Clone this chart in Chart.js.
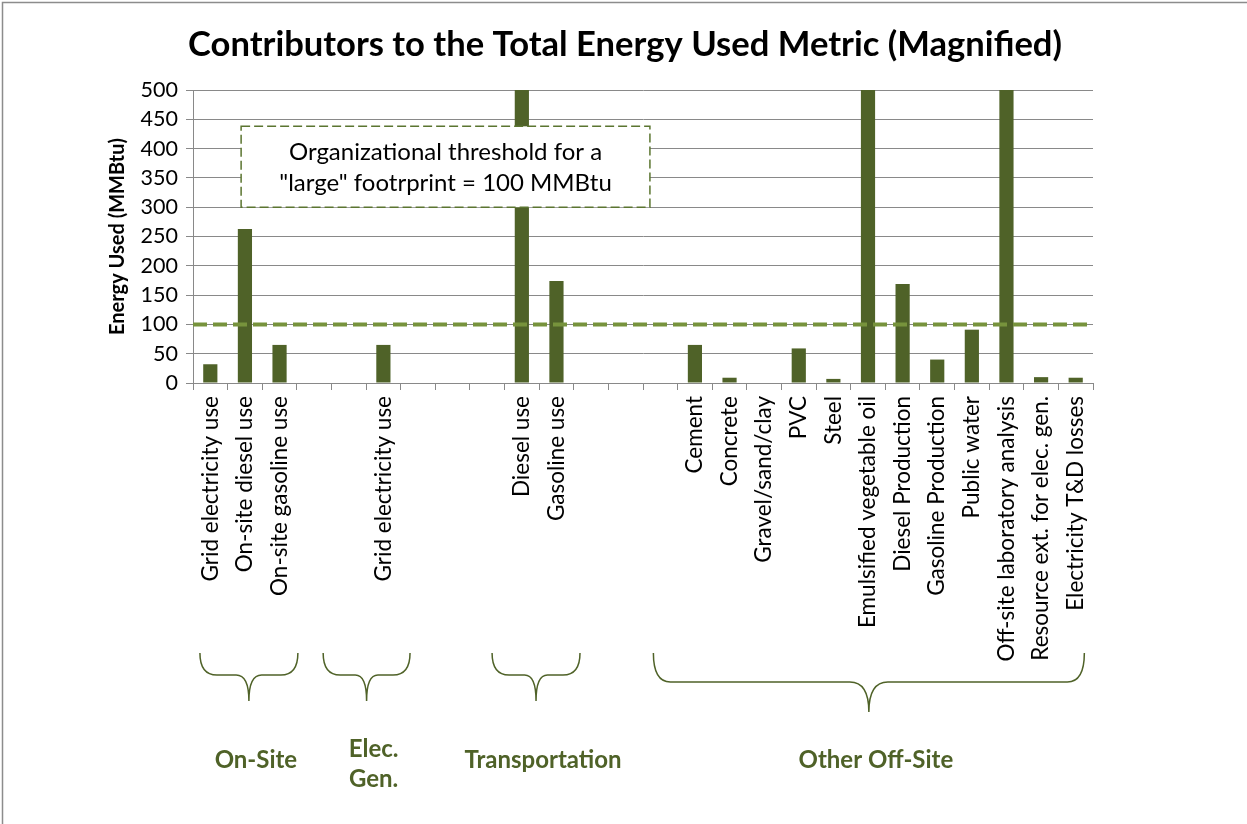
<!DOCTYPE html>
<html>
<head>
<meta charset="utf-8">
<script src="https://cdn.jsdelivr.net/npm/chart.js@4.4.1/dist/chart.umd.min.js"></script>
<style>
  html, body { margin: 0; padding: 0; background: #fff; }
  #wrap { width: 1247px; height: 824px; }
</style>
</head>
<body>
<div id="wrap"><canvas id="chart" width="1247" height="824"></canvas></div>
<script>
// categories (empty strings are the spacer slots between groups)
const categories = [
  'Grid electricity use', 'On-site diesel use', 'On-site gasoline use', '', '',
  'Grid electricity use', '', '', '',
  'Diesel use', 'Gasoline use', '', '', '',
  'Cement', 'Concrete', 'Gravel/sand/clay', 'PVC', 'Steel', 'Emulsified vegetable oil',
  'Diesel Production', 'Gasoline Production', 'Public water', 'Off-site laboratory analysis',
  'Resource ext. for elec. gen.', 'Electricity T&D losses'
];
// MMBtu; the three bars that run off the top are above 500 (rough guesses, clipped anyway)
const energyUsed = [
  32, 263, 65, null, null,
  65, null, null, null,
  1400, 174, null, null, null,
  65, 9, 0, 59, 7, 2100,
  169, 40, 91, 900,
  10, 9
];
const yTicks = [0, 50, 100, 150, 200, 250, 300, 350, 400, 450, 500];
const threshold = 100;
const thresholdNote = ['Organizational threshold for a', '"large" footrprint = 100 MMBtu'];

// group braces under the axis, spans given in category positions
const groupNames = [['On-Site'], ['Elec.', 'Gen.'], ['Transportation'], ['Other Off-Site']];
const groupStart = [-0.3, 3.26, 8.14, 12.8];
const groupEnd = [2.53, 5.77, 10.68, 25.25];

const OLIVE = '#4F6228';
const GRID = '#898989';
const FONT = 'Lato';

function drawBrace(ctx, x0, x1, yTop, yMid, yTip) {
  const xc = (x0 + x1) / 2;
  const cw = 17;
  const tw = Math.min(19, (x1 - x0) * 0.13);
  ctx.beginPath();
  ctx.moveTo(x0, yTop);
  ctx.quadraticCurveTo(x0, yMid, x0 + cw, yMid);
  ctx.lineTo(xc - tw, yMid);
  ctx.quadraticCurveTo(xc, yMid, xc, yTip);
  ctx.quadraticCurveTo(xc, yMid, xc + tw, yMid);
  ctx.lineTo(x1 - cw, yMid);
  ctx.quadraticCurveTo(x1, yMid, x1, yTop);
  ctx.stroke();
}

const overlay = {
  id: 'overlay',
  beforeDraw(chart) {
    const { ctx, width, height } = chart;
    ctx.save();
    ctx.fillStyle = '#fff';
    ctx.fillRect(0, 0, width, height);
    ctx.strokeStyle = '#8c8c8c';
    ctx.lineWidth = 1.5;
    ctx.strokeRect(2.5, 2.5, width + 10, height + 10);
    ctx.restore();
  },
  afterDatasetsDraw(chart) {
    const { ctx, chartArea } = chart;
    const x = chart.scales.x, y = chart.scales.y;
    ctx.save();

    // threshold line
    const ty = y.getPixelForValue(threshold);
    ctx.strokeStyle = '#77933C';
    ctx.lineWidth = 4;
    ctx.setLineDash([14, 6]);
    ctx.beginPath();
    ctx.moveTo(chartArea.left, ty);
    ctx.lineTo(chartArea.right, ty);
    ctx.stroke();

    // note box
    const bx0 = x.getPixelForValue(0.89), bx1 = x.getPixelForValue(12.7);
    const by0 = y.getPixelForValue(438), by1 = y.getPixelForValue(300);
    ctx.setLineDash([9, 4]);
    ctx.fillStyle = '#fff';
    ctx.fillRect(bx0, by0, bx1 - bx0, by1 - by0);
    ctx.strokeStyle = '#5B7530';
    ctx.lineWidth = 1.5;
    ctx.strokeRect(bx0, by0, bx1 - bx0, by1 - by0);
    ctx.setLineDash([]);
    ctx.fillStyle = '#000';
    ctx.font = '24px ' + FONT;
    ctx.textAlign = 'center';
    ctx.textBaseline = 'middle';
    const bc = (bx0 + bx1) / 2, bm = (by0 + by1) / 2;
    ctx.fillText(thresholdNote[0], bc, bm - 15);
    ctx.fillText(thresholdNote[1], bc, bm + 16);

    // braces and group labels
    ctx.strokeStyle = OLIVE;
    ctx.lineWidth = 1.5;
    ctx.fillStyle = OLIVE;
    ctx.font = 'bold 24px ' + FONT;
    const base = chartArea.bottom;
    groupNames.forEach((lines, i) => {
      const x0 = x.getPixelForValue(groupStart[i]);
      const x1 = x.getPixelForValue(groupEnd[i]);
      const big = x1 - x0 > 200;
      drawBrace(ctx, x0, x1, base + 270, base + (big ? 299 : 292), base + (big ? 329 : 318));
      const cx = (x0 + x1) / 2 + 7;
      if (lines.length === 1) {
        ctx.fillText(lines[0], cx, base + 377);
      } else {
        ctx.fillText(lines[0], cx, base + 366);
        ctx.fillText(lines[1], cx, base + 396);
      }
    });

    // title, fitted to the reference width
    const title = 'Contributors to the Total Energy Used Metric (Magnified)';
    ctx.font = 'bold 30px ' + FONT;
    const size = 30 * 874 / ctx.measureText(title).width;
    ctx.font = 'bold ' + size.toFixed(1) + 'px ' + FONT;
    ctx.fillStyle = '#000';
    ctx.fillText(title, 625, 45);
    ctx.restore();
  }
};

new Chart(document.getElementById('chart'), {
  type: 'bar',
  data: {
    labels: categories,
    datasets: [{
      label: 'Energy Used',
      data: energyUsed,
      backgroundColor: OLIVE,
      borderWidth: 0,
      barPercentage: 0.41,
      categoryPercentage: 1
    }]
  },
  options: {
    responsive: false,
    devicePixelRatio: 1,
    animation: false,
    layout: { padding: { left: 100, right: 154, top: 90, bottom: 0 } },
    plugins: {
      legend: { display: false },
      tooltip: { enabled: false }
    },
    scales: {
      x: {
        grid: { drawOnChartArea: false, drawTicks: true, tickLength: 7, color: GRID, offset: true },
        border: { color: GRID },
        ticks: {
          autoSkip: false, minRotation: 90, maxRotation: 90, padding: 6,
          color: '#000', font: { family: FONT, size: 22.5 }
        },
        afterFit(s) { s.height = 441; }
      },
      y: {
        min: 0,
        max: 500,
        afterBuildTicks(s) { s.ticks = yTicks.map(v => ({ value: v })); },
        grid: { color: GRID, tickLength: 7 },
        border: { color: GRID },
        ticks: { padding: 8, color: '#000', font: { family: FONT, size: 21.5 } },
        title: {
          display: true, text: 'Energy Used (MMBtu)', color: '#000',
          font: { family: FONT, size: 20, weight: 'bold' }, padding: { top: 6 }
        },
        afterFit(s) { s.width = 93; }
      }
    }
  },
  plugins: [overlay]
});
</script>
</body>
</html>
